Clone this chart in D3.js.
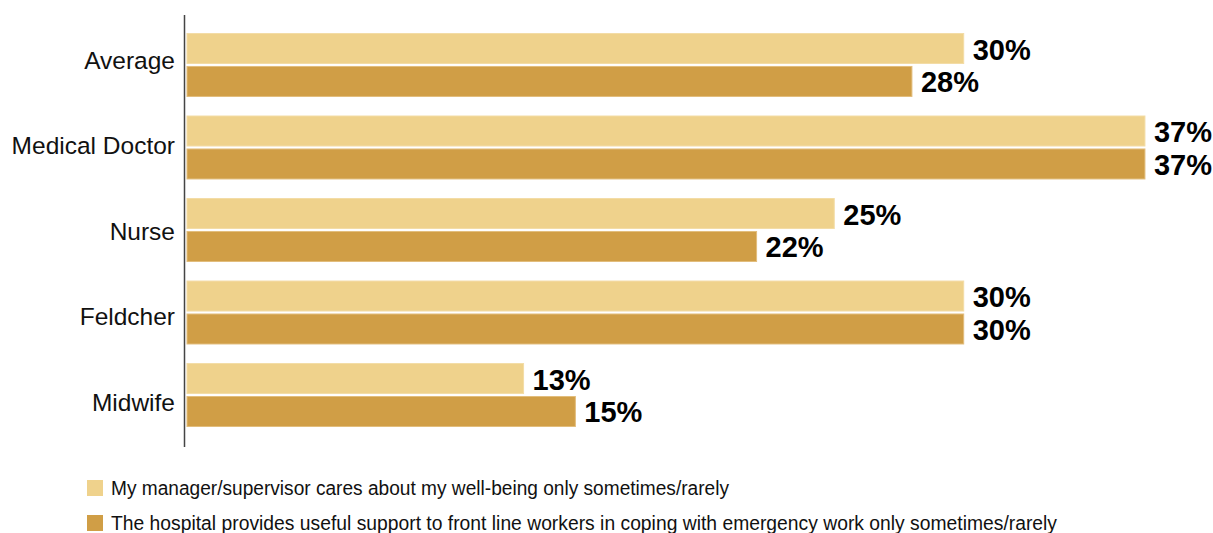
<!DOCTYPE html>
<html>
<head>
<meta charset="utf-8">
<script src="https://cdn.jsdelivr.net/npm/d3@7"></script>
<style>
  html, body { margin: 0; padding: 0; background: #fff; }
  svg { display: block; font-family: "Liberation Sans", Arial, Helvetica, sans-serif; }
</style>
</head>
<body>
<svg id="chart" width="1213" height="533"></svg>
<script>
// Survey categories, top to bottom
const categories = ["Average", "Medical Doctor", "Nurse", "Feldcher", "Midwife"];

// Share answering "only sometimes/rarely" (%)
const managerCares = [30, 37, 25, 30, 13];
const hospitalSupport = [28, 37, 22, 30, 15];

const seriesNames = [
  "My manager/supervisor cares about my well-being only sometimes/rarely",
  "The hospital provides useful support to front line workers in coping with emergency work only sometimes/rarely"
];
const seriesColors = ["#EFD28C", "#D09E46"];
const seriesStrokes = ["#F3DCA6", "#E2BD7C"];

const series = [managerCares, hospitalSupport];

const svg = d3.select("#chart");

// Horizontal value scale
const x = d3.scaleLinear().domain([0, 40]).range([187, 187 + 25.89 * 40]);

// Vertical band per category, sub-band per series
const y = d3.scaleBand().domain(categories).range([33.5, 426.5]).paddingInner(0.237).paddingOuter(0);
const ySub = d3.scaleBand().domain([0, 1]).range([0, y.bandwidth()]).paddingInner(0.09);

// Category label positions
const yLabel = d3.scalePoint().domain(categories).range([60.5, 402]);

// Bars
const groups = svg.append("g").selectAll("g")
  .data(categories)
  .join("g")
  .attr("transform", d => `translate(0,${y(d)})`);

groups.selectAll("rect")
  .data((d, i) => series.map((s, k) => ({ k, v: s[i] })))
  .join("rect")
  .attr("x", x(0))
  .attr("y", d => ySub(d.k))
  .attr("width", d => x(d.v) - x(0))
  .attr("height", ySub.bandwidth())
  .attr("fill", d => seriesColors[d.k])
  .attr("stroke", d => seriesStrokes[d.k])
  .attr("stroke-width", 1);

// Value labels
groups.selectAll("text.val")
  .data((d, i) => series.map((s, k) => ({ k, v: s[i] })))
  .join("text")
  .attr("class", "val")
  .attr("x", d => x(d.v) + 9)
  .attr("y", d => ySub(d.k) + ySub.bandwidth() / 2 + 11)
  .attr("font-size", 29)
  .attr("font-weight", "bold")
  .attr("fill", "#000")
  .text(d => d.v + "%");

// Category axis line
svg.append("line")
  .attr("x1", 184.5).attr("x2", 184.5)
  .attr("y1", 15).attr("y2", 447)
  .attr("stroke", "#444")
  .attr("stroke-width", 1.5);

// Category labels
svg.append("g").selectAll("text")
  .data(categories)
  .join("text")
  .attr("x", 175)
  .attr("y", d => yLabel(d) + 8.5)
  .attr("text-anchor", "end")
  .attr("font-size", 24.5)
  .attr("fill", "#111")
  .text(d => d);

// Legend
const legendWidths = [618, 946];
const legend = svg.append("g").selectAll("g")
  .data(seriesNames)
  .join("g")
  .attr("transform", (d, i) => `translate(87,${480 + i * 35})`);

legend.append("rect")
  .attr("width", 16).attr("height", 16)
  .attr("fill", (d, i) => seriesColors[i]);

legend.append("text")
  .attr("x", 24)
  .attr("y", 15)
  .attr("font-size", 19.5)
  .attr("fill", "#111")
  .attr("textLength", (d, i) => legendWidths[i])
  .attr("lengthAdjust", "spacingAndGlyphs")
  .text(d => d);
</script>
</body>
</html>
